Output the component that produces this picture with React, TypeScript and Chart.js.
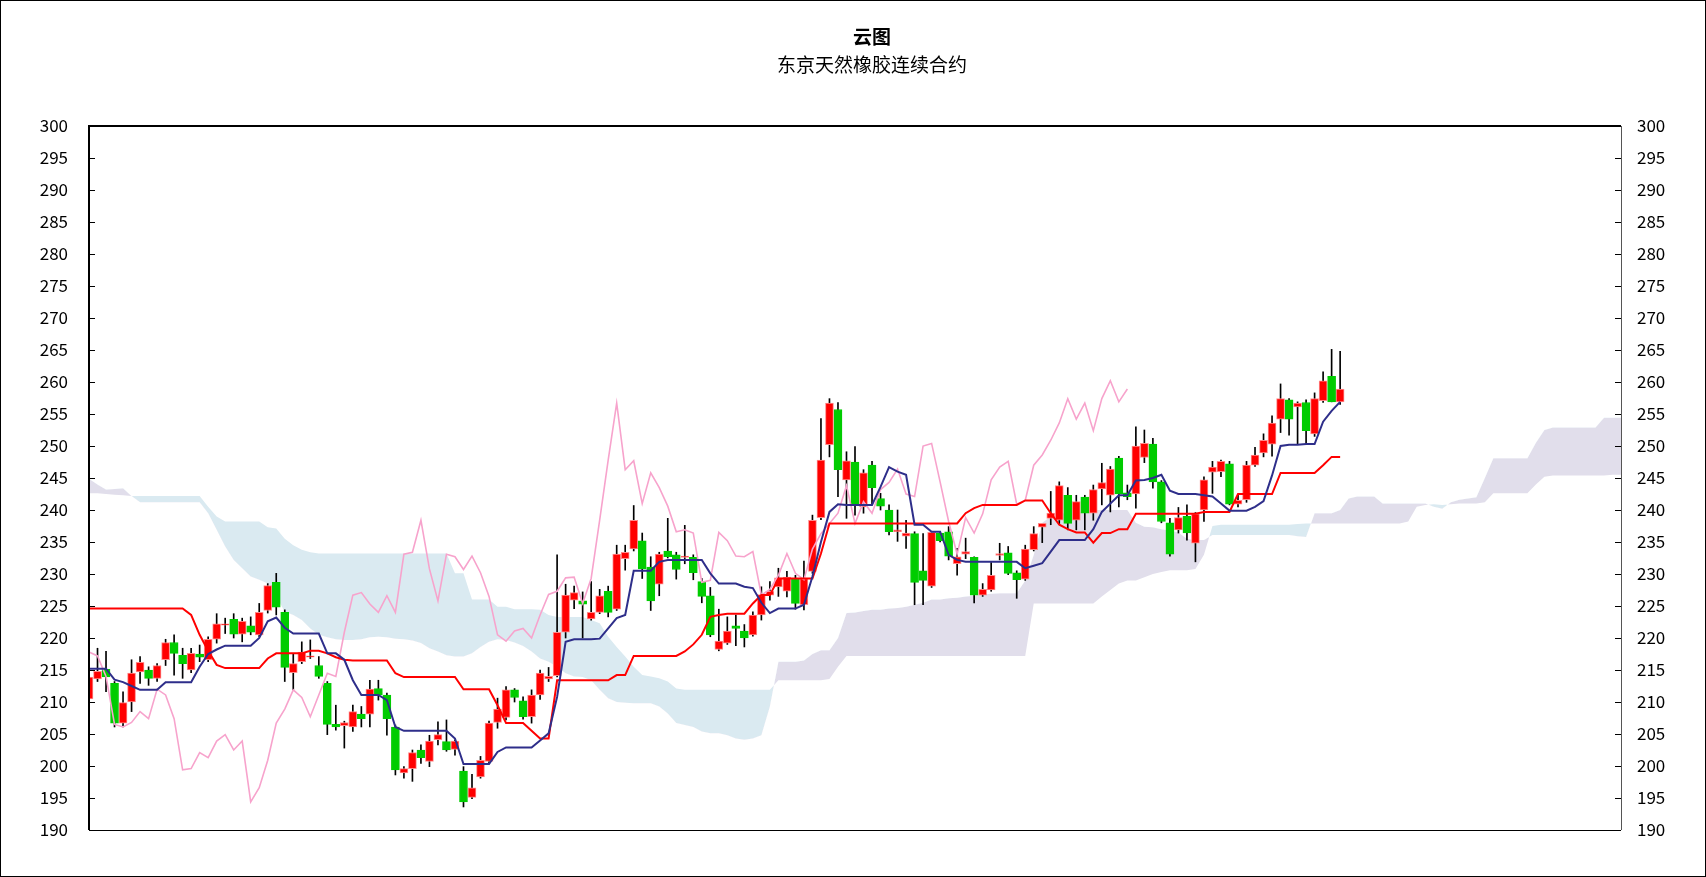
import React, { useEffect, useRef } from 'react';
import { Chart, registerables } from 'chart.js';

Chart.register(...registerables);

const TITLE = '云图';
const SUBTITLE = '东京天然橡胶连续合约';
const Y_MIN = 190;
const Y_MAX = 300;
const Y_STEP = 5;
const CATEGORY_COUNT = 181;
const categories = Array.from({ length: CATEGORY_COUNT }, (_, i) => String(i + 1));

const opens = [
  210.5, 213.6, 215.1, 212.9, 206.7, 210, 214.7, 215, 213.7, 216.6,
  219.3, 217.3, 215, 217.5, 216.6, 219.8, 222, 222.9, 220.6, 221.9,
  220.5, 224.3, 228.7, 224, 214.6, 216.3, 217, 215.7, 212.9, 206.5,
  206.3, 206.1, 208.1, 208.1, 212.1, 211.1, 206.1, 198.9, 199.6, 202.5,
  200.7, 204.1, 203.8, 202.6, 199.2, 195.1, 198.3, 200.7, 206.8, 207.6,
  211.9, 210.2, 207.7, 211.1, 213.6, 214.1, 220.9, 225.9, 225.8, 223,
  224, 227.3, 224.5, 232.4, 233.9, 235.2, 231.1, 228.4, 233.6, 233,
  232.6, 232.6, 228.8, 226.6, 218.2, 219.2, 221.9, 221.1, 220.5, 223.6,
  226.7, 228, 227.3, 229.3, 225.2, 230.4, 238.8, 250.2, 255.7, 244.7,
  247.5, 240.5, 247, 241.8, 240, 236.6, 235.9, 236.3, 230.5, 228.1,
  236.4, 236.6, 231.6, 233.1, 232.6, 226.7, 227.5, 232.9, 233.3, 230.2,
  229.2, 233.8, 237.3, 238.7, 238.4, 242.3, 238.4, 242, 239.5, 243.3,
  242.3, 248.1, 242.7, 242.5, 248.2, 250.3, 244.4, 238, 236.9, 239,
  234.8, 240, 245.9, 246, 247.2, 240.9, 241.6, 247, 248.9, 250.3,
  254.2, 257.2, 256.1, 256.8, 251.9, 257.1, 260.9, 256.9,
];

const highs = [
  214.2, 218.4, 217.9, 213.2, 211.6, 216.6, 217.1, 215.5, 216, 219.8,
  220.5, 218.4, 218.4, 218.9, 220.2, 223.8, 223.1, 223.8, 223.1, 223.3,
  225.4, 228.5, 230.1, 224.4, 217.6, 219.4, 219.7, 217.1, 213.2, 209.5,
  207, 209.5, 209.3, 213.4, 213.4, 211.4, 206.4, 199.9, 202.5, 203.3,
  204.8, 206.9, 207.2, 204.1, 199.9, 198.7, 201.5, 207, 210.6, 212.4,
  212.1, 210.8, 211.9, 215, 215.4, 233, 228.4, 228.1, 227.2, 228.8,
  227.6, 228.1, 234.5, 234.5, 240.7, 236.4, 232.7, 233.4, 238.7, 233.4,
  237.6, 233, 229.3, 227.9, 224.5, 223.3, 223.6, 222.1, 224.1, 228,
  228.8, 230.9, 230.4, 229.8, 232, 239.2, 254.3, 257.4, 256.8, 249.1,
  249.9, 246.3, 247.6, 242.6, 240.8, 240, 238.4, 236.6, 236.3, 236.6,
  236.6, 237.4, 234, 235.6, 232.7, 228.5, 231.8, 234.8, 234.3, 230.5,
  234.5, 237.4, 237.9, 242.9, 244.4, 243.5, 242.3, 242.3, 243.9, 247.3,
  246.8, 248.4, 243.9, 253, 252.5, 251.2, 244.6, 238.7, 240.4, 240.8,
  239.6, 245.2, 247.6, 247.8, 247.6, 242.3, 247.6, 249.8, 251.9, 254.7,
  259.7, 257.4, 256.9, 257.2, 258.3, 261.6, 265.1, 264.8,
];

const lows = [
  210, 213.2, 211.6, 206.1, 206.1, 208.5, 212.9, 212.6, 213.2, 215.7,
  214.2, 213.7, 214.6, 216.3, 216.3, 219.2, 220.7, 220, 219.4, 220.5,
  220.2, 223.9, 223.6, 213.2, 211.9, 216, 216.8, 213.7, 204.9, 205.6,
  202.8, 205.4, 206.1, 206.1, 210.3, 204.8, 198.6, 198.1, 197.6, 200.4,
  199.9, 203.3, 202.3, 201.7, 193.6, 194.9, 198.1, 200.5, 205.9, 207.2,
  210, 207.3, 206.7, 210.4, 213.2, 213.9, 220, 224.6, 220, 222.8,
  223.8, 223.3, 224.3, 230.6, 233.6, 229.3, 224.3, 226.6, 232.5, 229.2,
  231.6, 229.1, 225.5, 220.2, 218, 219, 218.8, 218.6, 220.3, 222.8,
  225.9, 226.5, 226.4, 224.5, 224.4, 230.1, 238.5, 248.3, 242.1, 238.7,
  239.2, 239.5, 240.8, 240, 236.1, 235.1, 234, 225.2, 225.2, 227.9,
  235, 232.2, 229.8, 232.4, 225.5, 226.5, 227.3, 232.2, 229.9, 226.2,
  229, 233.6, 234.9, 237.7, 237.7, 236.9, 236.9, 236.9, 238.4, 240.8,
  239.7, 240.5, 241.6, 240.3, 247.4, 243.4, 238, 232.8, 236.4, 235.3,
  231.9, 238.2, 242.6, 245.2, 240.8, 240.5, 241.2, 246.8, 248.3, 248.4,
  252.1, 251.7, 250.3, 250.3, 251.5, 256.8, 256.9, 256.5,
];

const closes = [
  213.9, 214.8, 213.9, 206.7, 209.9, 214.5, 216.2, 213.7, 215.7, 219.3,
  217.6, 216, 217.6, 217, 219.8, 222.2, 222.2, 220.6, 222.6, 220.9,
  224, 228.2, 224.8, 215.4, 216, 217.8, 217.2, 214, 206.5, 206.1,
  206.8, 208.5, 207.4, 212, 211.1, 207.4, 199.4, 199.6, 202.1, 201.3,
  203.9, 204.9, 202.5, 203.9, 194.4, 196.6, 200.9, 206.7, 208.9, 211.9,
  210.7, 207.7, 211.1, 214.5, 214, 220.9, 226.7, 227.1, 225.3, 224,
  226.6, 224, 233.1, 233.4, 238.4, 230.8, 225.8, 233.1, 232.7, 230.7,
  232.8, 230.2, 226.5, 220.5, 219.5, 221.1, 221.5, 220, 223.6, 226.8,
  227.3, 229.4, 229.5, 225.4, 229.3, 238.4, 247.8, 256.7, 246.3, 247.7,
  241, 245.8, 243.5, 240.6, 236.6, 236.9, 236.4, 228.7, 229, 236.5,
  235.2, 232.8, 232.7, 233.5, 226.7, 227.6, 229.8, 233.2, 230.1, 229.1,
  233.9, 236.3, 237.9, 239.5, 243.8, 237.9, 241.3, 239.5, 243.2, 244.3,
  246.4, 242.5, 242.1, 250, 250.4, 244.4, 238.2, 233.1, 238.8, 236.4,
  239.4, 244.7, 246.7, 247.6, 240.9, 241.5, 247, 248.6, 250.9, 253.6,
  257.4, 254.2, 256.7, 252.4, 257.4, 260.2, 256.9, 258.9,
];

// 转换线 (Tenkan)
const tenkan = [
  215.2, 215.2, 215.2, 213.5, 213.1, 212.5, 211.9, 211.9, 211.9, 213.1,
  213.1, 213.1, 213.1, 215.5, 217.5, 218.2, 218.8, 218.8, 218.8, 218.8,
  220, 222.6, 223.2, 221.6, 220.7, 220.7, 220.7, 220.7, 217.6, 217.6,
  216.6, 213.4, 211.1, 211.1, 211.1, 210.3, 206.1, 205.5, 205.5, 205.5,
  205.5, 205.5, 205.5, 204.3, 200.3, 200.3, 200.3, 200.3, 202.2, 202.9,
  202.9, 202.9, 202.9, 204, 205.1, 210.8, 219.4, 219.8, 219.8, 219.8,
  219.9, 221.5, 223.1, 223.6, 230.5, 230.5, 230.5, 231.9, 232.2, 232.2,
  232.2, 232.2, 232.2, 230.1, 228.5, 228.5, 228.5, 228, 227.8, 225.5,
  223.9, 224.6, 224.6, 224.6, 225.2, 229.6, 235, 239.7, 240.9, 240.8,
  240.8, 240.8, 240.8, 243.6, 246.7, 246, 245.5, 237.7, 237.7, 236.6,
  236.6, 233, 232.2, 231.9, 231.9, 231.9, 231.9, 231.9, 231.9, 231.9,
  230.9, 231.3, 231.7, 233.5, 235.3, 235.3, 235.3, 235.3, 237, 239.7,
  241, 242.3, 242.3, 244.6, 244.7, 245, 245.5, 243, 242.5, 242.5,
  242.5, 242.3, 242.1, 241, 239.9, 239.9, 239.9, 240.5, 241.4, 245.4,
  250, 250.2, 250.2, 250.3, 250.3, 253.8, 255.5, 256.9,
];

// 基准线 (Kijun)
const kijun = [
  224.6, 224.6, 224.6, 224.6, 224.6, 224.6, 224.6, 224.6, 224.6, 224.6,
  224.6, 224.6, 223.6, 220.5, 218, 215.8, 215.3, 215.3, 215.3, 215.3,
  215.3, 216.8, 217.6, 217.6, 217.6, 217.6, 218, 218, 217.6, 217,
  216.6, 216.5, 216.5, 216.5, 216.5, 216.5, 214.5, 213.9, 213.9, 213.9,
  213.9, 213.9, 213.9, 213.9, 212, 212, 212, 212, 209.5, 206.7,
  206.7, 206.7, 205.5, 204.3, 204.3, 213.4, 213.4, 213.4, 213.4, 213.4,
  213.4, 213.4, 214.2, 214.2, 217.2, 217.2, 217.2, 217.2, 217.2, 217.2,
  217.9, 219, 220.5, 223.3, 223.6, 223.8, 223.8, 223.8, 225.4, 226.7,
  226.7, 229.3, 229.3, 229.3, 229.3, 229.3, 233.2, 237.9, 237.9, 237.9,
  237.9, 237.9, 237.9, 237.9, 237.9, 237.9, 237.9, 237.9, 237.9, 237.9,
  237.9, 237.9, 237.9, 239.5, 240.3, 240.8, 240.8, 240.8, 240.8, 240.8,
  241.5, 241.5, 241.5, 239.5, 237.7, 237, 236.5, 236.5, 234.9, 236.4,
  236.4, 237, 237, 239.4, 239.4, 239.4, 239.4, 239.4, 239.4, 239.4,
  239.4, 239.7, 239.7, 239.7, 239.7, 242.5, 242.5, 242.5, 242.5, 242.5,
  245.8, 245.8, 245.8, 245.8, 245.8, 247, 248.3, 248.3,
];

// 迟行线 (Chikou)
const chikou = [
  217.8, 217.2, 214, 206.5, 206.1,
  206.8, 208.5, 207.4, 212, 211.1, 207.4, 199.4, 199.6, 202.1, 201.3,
  203.9, 204.9, 202.5, 203.9, 194.4, 196.6, 200.9, 206.7, 208.9, 211.9,
  210.7, 207.7, 211.1, 214.5, 214, 220.9, 226.7, 227.1, 225.3, 224,
  226.6, 224, 233.1, 233.4, 238.4, 230.8, 225.8, 233.1, 232.7, 230.7,
  232.8, 230.2, 226.5, 220.5, 219.5, 221.1, 221.5, 220, 223.6, 226.8,
  227.3, 229.4, 229.5, 225.4, 229.3, 238.4, 247.8, 256.7, 246.3, 247.7,
  241, 245.8, 243.5, 240.6, 236.6, 236.9, 236.4, 228.7, 229, 236.5,
  235.2, 232.8, 232.7, 233.5, 226.7, 227.6, 229.8, 233.2, 230.1, 229.1,
  233.9, 236.3, 237.9, 239.5, 243.8, 237.9, 241.3, 239.5, 243.2, 244.3,
  246.4, 242.5, 242.1, 250, 250.4, 244.4, 238.2, 233.1, 238.8, 236.4,
  239.4, 244.7, 246.7, 247.6, 240.9, 241.5, 247, 248.6, 250.9, 253.6,
  257.4, 254.2, 256.7, 252.4, 257.4, 260.2, 256.9, 258.9,
];

// 先行带A
const senkouA = [
  242.6, 242.6, 242.5, 242.4, 242.3, 242.2, 242.2, 242.2, 242.2, 242.2,
  242.2, 242.2, 242.2, 242.2, 240.5, 239, 238.2, 238.2, 238.2, 238.2,
  238.2, 237.3, 237.1, 235.5, 234.5, 233.8, 233.4, 233.2, 233.2, 233.2,
  233.2, 233.2, 233.2, 233.2, 233.2, 233.2, 233.2, 233.2, 233.2, 233.2,
  233.2, 233.2, 233.2, 230.1, 230.1, 226, 226, 226, 224.9, 224.9,
  224.5, 224.5, 224.5, 224.4, 223.6, 223.3, 223.3, 223.3, 223.3, 222.8,
  222.3, 220.2, 218.6, 217.1, 215.5, 214.2, 214, 213.7, 213.2, 212.1,
  211.9, 211.9, 211.9, 211.9, 211.9, 211.9, 211.9, 211.9, 211.9, 211.9,
  211.9, 213.4, 213.4, 213.4, 213.4, 213.4, 213.4, 213.6, 215.5, 217.2,
  217.2, 217.2, 217.2, 217.2, 217.2, 217.2, 217.2, 217.2, 217.2, 217.2,
  217.2, 217.2, 217.2, 217.2, 217.2, 217.2, 217.2, 217.2, 217.2, 217.2,
  217.2, 225.4, 225.4, 225.4, 225.4, 225.4, 225.4, 225.4, 225.4, 226.5,
  227.5, 228.5, 229, 229, 229.5, 230, 230.3, 230.6, 230.6, 230.6,
  230.8, 233, 237.5, 237.7, 237.7, 237.7, 237.7, 237.7, 237.7, 237.7,
  237.7, 237.7, 237.8, 237.9, 237.9, 237.9, 237.9, 237.9, 237.9, 237.9,
  237.9, 237.9, 237.9, 237.9, 237.9, 238.2, 240.5, 240.8, 240.9, 240.8,
  240.9, 241, 241, 241, 241.2, 242.6, 242.6, 242.6, 242.6, 242.6,
  244, 245.2, 245.4, 245.4, 245.4, 245.4, 245.4, 245.4, 245.4, 245.5,
  245.5,
];

// 先行带B
const senkouB = [
  244.9, 244, 243.2, 243.3, 243.4, 242.2, 241.2, 241.2, 241.2, 241.2,
  241.2, 241.2, 241.2, 241.2, 239.5, 236.9, 234.3, 232.2, 230.9, 229.6,
  229.1, 228.5, 226.5, 224.1, 223.6, 222.8, 221.5, 220.5, 220.1, 219.8,
  219.7, 219.7, 219.8, 220.1, 220.2, 220.1, 219.9, 219.8, 219.6, 219.2,
  218.4, 217.9, 217.3, 217.1, 217.1, 217.6, 218.6, 219.4, 219.8, 219.7,
  219.3, 218.75, 217.9, 216.8, 216.3, 215.5, 214.5, 214, 213.9, 213.4,
  211.9, 210.6, 210, 209.9, 209.8, 209.8, 209.8, 209.3, 208.2, 206.7,
  206.4, 206.1, 205.4, 205.1, 205.1, 204.8, 204.3, 204.1, 204.3, 204.8,
  209.3, 216.3, 216.3, 216.3, 216.5, 217.5, 218.1, 218.1, 220, 223.9,
  224, 224.2, 224.4, 224.4, 224.6, 224.7, 224.9, 225.2, 225.5, 226,
  226, 226.2, 226.3, 226.5, 226.6, 226.8, 226.9, 227, 227, 227,
  229, 233, 238, 239, 239.5, 239.5, 239.5, 239.8, 240, 240,
  240, 240, 240, 238, 237.4, 237.3, 237, 236.8, 236.5, 235.5,
  235.3, 235.3, 236.1, 236.1, 236.1, 236.1, 236.1, 236.1, 236.1, 236.1,
  236.1, 236.1, 235.9, 235.8, 239.5, 239.5, 239.5, 240, 241.8, 242.1,
  242.1, 242.1, 241, 241, 241, 241, 241, 241, 240.5, 240.2,
  241.2, 241.6, 241.8, 242, 245, 248.1, 248.1, 248.1, 248.1, 248.1,
  250.5, 252.5, 252.9, 252.9, 252.9, 252.9, 252.9, 252.9, 254.4, 254.4,
  254.4,
];

const UP_COLOR = '#FF0000';
const UP_BORDER = '#FF8A8A';
const DOWN_COLOR = '#00CC00';
const CLOUD_BLUE = 'rgb(218, 234, 241)';
const CLOUD_PURPLE = 'rgb(225, 222, 235)';
const TICK_FONT = { family: '"Noto Sans CJK JP", "Noto Sans", sans-serif', size: 17 };

const decorPlugin = {
  id: 'decor',
  beforeDraw(chart: any) {
    const { ctx, width, height } = chart;
    ctx.save();
    ctx.fillStyle = '#FFFFFF';
    ctx.fillRect(0, 0, width, height);
    ctx.restore();
  },
  afterDraw(chart: any) {
    const { ctx, chartArea: a, width, height } = chart;
    const ys = chart.scales.y;
    ctx.save();
    ctx.strokeStyle = '#000';
    ctx.lineWidth = 2;
    ctx.beginPath();
    ctx.moveTo(a.left, a.bottom);
    ctx.lineTo(a.left, a.top);
    ctx.lineTo(a.right, a.top);
    ctx.stroke();
    ctx.lineWidth = 1;
    ctx.beginPath();
    ctx.moveTo(a.left, Math.round(a.bottom) + 0.5);
    ctx.lineTo(a.right, Math.round(a.bottom) + 0.5);
    ctx.stroke();
    ctx.strokeStyle = '#555';
    ctx.beginPath();
    ctx.moveTo(Math.round(a.right) + 0.5, a.top);
    ctx.lineTo(Math.round(a.right) + 0.5, a.bottom);
    ctx.stroke();
    ctx.strokeStyle = '#000';
    ctx.beginPath();
    for (let v = Y_MIN; v <= Y_MAX; v += Y_STEP) {
      const py = Math.round(ys.getPixelForValue(v)) + 0.5;
      ctx.moveTo(a.left, py);
      ctx.lineTo(a.left + 6, py);
      ctx.moveTo(a.right, py);
      ctx.lineTo(a.right - 6, py);
    }
    ctx.stroke();
    ctx.strokeRect(0.5, 0.5, width - 1, height - 1);
    ctx.fillStyle = '#000';
    ctx.textAlign = 'center';
    ctx.textBaseline = 'middle';
    ctx.font = 'bold 19px "Noto Sans CJK SC", sans-serif';
    ctx.fillText(TITLE, 872, 37);
    ctx.font = '19px "Noto Sans CJK SC", sans-serif';
    ctx.fillText(SUBTITLE, 872, 65);
    ctx.restore();
  },
};

export default function App() {
  const canvasRef = useRef<HTMLCanvasElement | null>(null);

  useEffect(() => {
    document.body.style.margin = '0';
    document.body.style.overflow = 'hidden';
    const canvas = canvasRef.current;
    if (!canvas) return;

    const wickData = highs.map((h, i) => [lows[i], h]);
    const bodyData = opens.map((o, i) => [o, closes[i]]);
    const isUp = closes.map((c, i) => c >= opens[i]);

    const chart = new Chart(canvas, {
      type: 'bar',
      data: {
        labels: categories,
        datasets: [
          {
            type: 'line',
            label: 'SenkouA',
            data: senkouA,
            borderColor: 'rgba(0,0,0,0)',
            borderWidth: 0,
            pointRadius: 0,
            tension: 0,
            fill: { target: '+1', above: CLOUD_BLUE, below: CLOUD_PURPLE },
            order: 20,
          } as any,
          {
            type: 'line',
            label: 'SenkouB',
            data: senkouB,
            borderColor: 'rgba(0,0,0,0)',
            borderWidth: 0,
            pointRadius: 0,
            tension: 0,
            fill: false,
            order: 21,
          } as any,
          {
            type: 'bar',
            label: 'wick',
            data: wickData,
            backgroundColor: '#000',
            barThickness: 1,
            grouped: false,
            borderWidth: 0,
            order: 10,
          } as any,
          {
            type: 'bar',
            label: 'body',
            data: bodyData,
            backgroundColor: isUp.map((u) => (u ? UP_COLOR : DOWN_COLOR)),
            borderColor: isUp.map((u) => (u ? UP_BORDER : DOWN_COLOR)),
            borderWidth: 1,
            borderSkipped: false,
            barThickness: 8,
            grouped: false,
            order: 9,
          } as any,
          {
            type: 'line',
            label: 'Chikou',
            data: chikou,
            borderColor: '#F7A3CC',
            borderWidth: 1.6,
            pointRadius: 0,
            tension: 0,
            fill: false,
            order: 3,
          } as any,
          {
            type: 'line',
            label: 'Kijun',
            data: kijun,
            borderColor: '#FF0000',
            borderWidth: 2,
            pointRadius: 0,
            tension: 0,
            fill: false,
            order: 2,
          } as any,
          {
            type: 'line',
            label: 'Tenkan',
            data: tenkan,
            borderColor: '#2E2E8A',
            borderWidth: 2,
            pointRadius: 0,
            tension: 0,
            fill: false,
            order: 1,
          } as any,
        ],
      },
      options: {
        responsive: false,
        maintainAspectRatio: false,
        animation: false,
        devicePixelRatio: 1,
        layout: { padding: { top: 126, bottom: 47, left: 0, right: 0 } },
        plugins: {
          legend: { display: false },
          tooltip: { enabled: false },
          title: { display: false },
        },
        scales: {
          x: {
            type: 'category',
            offset: false,
            display: false,
            grid: { display: false },
          },
          y: {
            position: 'left',
            min: Y_MIN,
            max: Y_MAX,
            ticks: { stepSize: Y_STEP, padding: 21, color: '#000', font: TICK_FONT },
            grid: { display: false, drawTicks: false },
            border: { display: false },
            afterFit: (s: any) => {
              s.width = 89;
            },
          },
          y2: {
            position: 'right',
            min: Y_MIN,
            max: Y_MAX,
            ticks: { stepSize: Y_STEP, padding: 16, color: '#000', font: TICK_FONT },
            grid: { display: false, drawTicks: false },
            border: { display: false },
            afterFit: (s: any) => {
              s.width = 85;
            },
          },
        },
      } as any,
      plugins: [decorPlugin],
    });

    return () => {
      chart.destroy();
    };
  }, []);

  return (
    <canvas
      ref={canvasRef}
      width={1706}
      height={877}
      style={{ display: 'block', width: '1706px', height: '877px' }}
    />
  );
}
